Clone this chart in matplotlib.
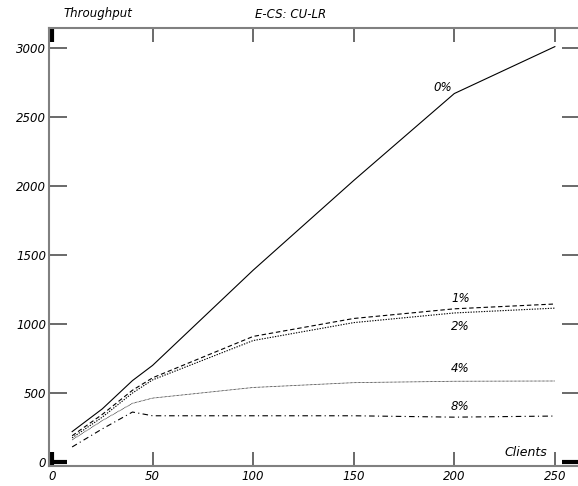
import matplotlib
matplotlib.use("Agg")
import matplotlib.pyplot as plt

plt.rcParams['font.family'] = ['DejaVu Sans']

# data
clients = [10, 25, 40, 50, 100, 150, 200, 250]
tp_0 = [220, 385, 590, 700, 1390, 2040, 2670, 3010]
tp_1 = [190, 345, 520, 610, 910, 1040, 1110, 1145]
tp_2 = [175, 325, 500, 595, 880, 1010, 1080, 1115]
tp_4 = [160, 300, 425, 463, 540, 575, 585, 587]
tp_8 = [109, 240, 362, 335, 335, 335, 325, 333]
labels = ["0%", "1%", "2%", "4%", "8%"]
label_pos = [(194, 2717), (203, 1188), (203, 985), (203, 681), (203, 399)]

xticks = [0, 50, 100, 150, 200, 250]
yticks = [0, 500, 1000, 1500, 2000, 2500, 3000]

fig = plt.figure(figsize=(5.78, 4.86), dpi=100)
# right spine sits just outside the picture, as in the reference
ax = fig.add_axes([49 / 578, 1 - 466 / 486, 531 / 578, 438 / 486])

ax.plot(clients, tp_0, color='black', lw=0.8, ls='-')
ax.plot(clients, tp_1, color='black', lw=0.8, ls=(0, (4, 2.5)))
ax.plot(clients, tp_2, color='black', lw=0.8, ls=(0, (1.2, 1.2)))
ax.plot(clients, tp_4, color='black', lw=0.6, ls=(0, (0.8, 0.8)))
ax.plot(clients, tp_8, color='black', lw=0.8, ls=(0, (5, 3, 1, 3)))

for lab, (lx, ly) in zip(labels, label_pos):
    ax.text(lx, ly, lab, fontsize=8.5, style='italic', ha='center', va='center')

ax.text(246, 72, "Clients", fontsize=9, style='italic', ha='right', va='center')

ax.set_xlim(-1.5, 262.5)
ax.set_ylim(-29, 3145)
ax.set_xticks(xticks)
ax.set_yticks(yticks)
ax.set_xticklabels([str(v) for v in xticks], style='italic', fontsize=8.5)
ax.set_yticklabels([str(v) for v in yticks], style='italic', fontsize=8.5)

for sp in ax.spines.values():
    sp.set_color('#808080')
    sp.set_linewidth(1.5)

ax.tick_params(axis='x', direction='in', length=10, width=1.2, color='#505050',
               top=True, bottom=True, pad=3)
ax.tick_params(axis='y', direction='in', length=13, width=1.2, color='#505050',
               left=True, right=True, pad=2)

# thick black tick marks at zero
for t in [ax.xaxis.get_major_ticks()[0], ax.yaxis.get_major_ticks()[0]]:
    for ln in (t.tick1line, t.tick2line):
        ln.set_markeredgecolor('black')
        ln.set_markeredgewidth(3)

fig.text(63 / 578, 1 - 14 / 486, "Throughput", fontsize=8.5, style='italic', va='center')
fig.text(255 / 578, 1 - 14 / 486, "E-CS: CU-LR", fontsize=8.5, style='italic', va='center')

fig.savefig("out.png", dpi=100)
